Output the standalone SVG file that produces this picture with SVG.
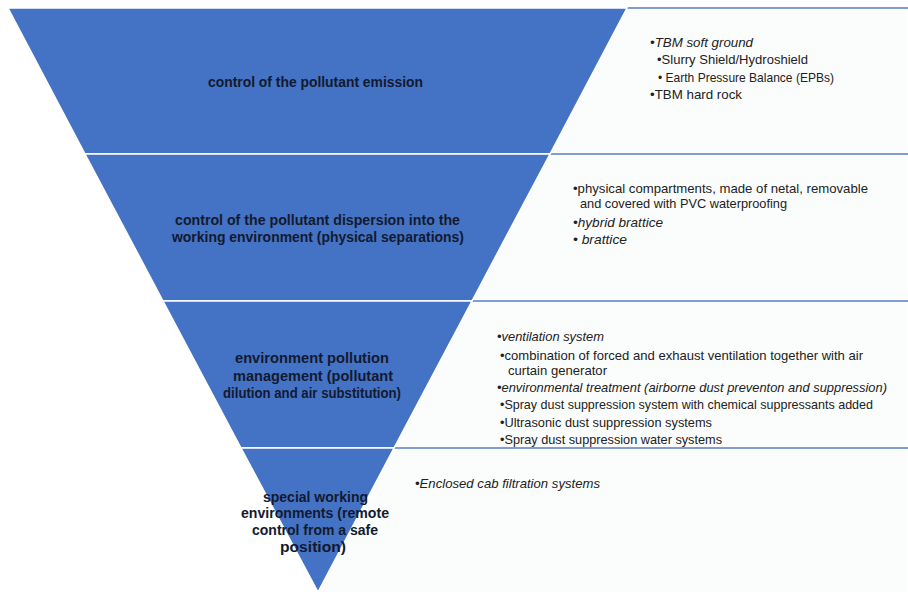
<svg xmlns="http://www.w3.org/2000/svg" width="908" height="594" viewBox="0 0 908 594">
<style>
.band{fill:#4472c4;stroke:#ffffff;stroke-width:1.5}
.panel{fill:#fbfcfc;stroke:none}
.sep{stroke:#7f9dd3;stroke-width:2;fill:none}
.lbl{font-family:"Liberation Sans",Arial,sans-serif;font-weight:bold;font-size:14px;fill:#121a30}
.txt{font-family:"Liberation Sans",Arial,sans-serif;font-size:13px;fill:#222222}
.it{font-style:italic}
</style>
<rect width="908" height="594" fill="#ffffff"/>
<g id="panels">
<polygon class="panel" points="627,8 906,8 906,154 550,154"/>
<polygon class="panel" points="550,154 906,154 906,301 472,301"/>
<polygon class="panel" points="472,301 906,301 906,448 394,448"/>
<polygon class="panel" points="394,448 906,448 906,592 318,592"/>
</g>
<g id="connectors">
<line class="sep" x1="627" y1="8" x2="908" y2="8"/>
<line class="sep" x1="550" y1="154" x2="908" y2="154"/>
<line class="sep" x1="472" y1="301" x2="908" y2="301"/>
<line class="sep" x1="394" y1="448" x2="908" y2="448"/>
</g>
<g id="band1">
<polygon class="band" points="8,8 627,8 550,154 85,154"/>
<text class="lbl" x="208" y="87" textLength="215" lengthAdjust="spacingAndGlyphs">control of the pollutant emission</text>
</g>
<g id="band2">
<polygon class="band" points="85,154 550,154 472,301 163,301"/>
<text class="lbl" x="175" y="225" textLength="285" lengthAdjust="spacingAndGlyphs">control of the pollutant dispersion into the</text>
<text class="lbl" x="172" y="242" textLength="292" lengthAdjust="spacingAndGlyphs">working environment (physical separations)</text>
</g>
<g id="band3">
<polygon class="band" points="163,301 472,301 394,448 241,448"/>
<text class="lbl" x="235" y="363" textLength="154" lengthAdjust="spacingAndGlyphs">environment pollution</text>
<text class="lbl" x="233" y="381" textLength="160" lengthAdjust="spacingAndGlyphs">management (pollutant</text>
<text class="lbl" x="223" y="398" textLength="178" lengthAdjust="spacingAndGlyphs">dilution and air substitution)</text>
</g>
<g id="band4">
<polygon class="band" points="241,448 394,448 318,592"/>
<text class="lbl" x="263" y="502" textLength="105" lengthAdjust="spacingAndGlyphs">special working</text>
<text class="lbl" x="241" y="518" textLength="148" lengthAdjust="spacingAndGlyphs">environments (remote</text>
<text class="lbl" x="252" y="535" textLength="126" lengthAdjust="spacingAndGlyphs">control from a safe</text>
<text class="lbl" x="280" y="552" textLength="66" lengthAdjust="spacingAndGlyphs">position)</text>
</g>
<g id="panel1">
<text class="txt it" x="650" y="47" textLength="103" lengthAdjust="spacingAndGlyphs">•TBM soft ground</text>
<text class="txt" x="657" y="64" textLength="151" lengthAdjust="spacingAndGlyphs">•Slurry Shield/Hydroshield</text>
<text class="txt" x="658" y="82" textLength="176" lengthAdjust="spacingAndGlyphs">• Earth Pressure Balance (EPBs)</text>
<text class="txt" x="650" y="99" textLength="92" lengthAdjust="spacingAndGlyphs">•TBM hard rock</text>
</g>
<g id="panel2">
<text class="txt" x="573" y="193" textLength="295" lengthAdjust="spacingAndGlyphs">•physical compartments, made of netal, removable</text>
<text class="txt" x="580" y="208" textLength="207" lengthAdjust="spacingAndGlyphs">and covered with PVC waterproofing</text>
<text class="txt it" x="573" y="227" textLength="90" lengthAdjust="spacingAndGlyphs">•hybrid brattice</text>
<text class="txt it" x="573" y="244" textLength="54" lengthAdjust="spacingAndGlyphs">• brattice</text>
</g>
<g id="panel3">
<text class="txt it" x="497" y="341" textLength="107" lengthAdjust="spacingAndGlyphs">•ventilation system</text>
<text class="txt" x="500" y="360" textLength="363" lengthAdjust="spacingAndGlyphs">•combination of forced and exhaust ventilation together with air</text>
<text class="txt" x="508" y="375" textLength="99" lengthAdjust="spacingAndGlyphs">curtain generator</text>
<text class="txt it" x="497" y="392" textLength="390" lengthAdjust="spacingAndGlyphs">•environmental treatment (airborne dust preventon and suppression)</text>
<text class="txt" x="500" y="409" textLength="373" lengthAdjust="spacingAndGlyphs">•Spray dust suppression system with chemical suppressants added</text>
<text class="txt" x="500" y="427" textLength="212" lengthAdjust="spacingAndGlyphs">•Ultrasonic dust suppression systems</text>
<text class="txt" x="500" y="444" textLength="222" lengthAdjust="spacingAndGlyphs">•Spray dust suppression water systems</text>
</g>
<g id="panel4">
<text class="txt it" x="415" y="488" textLength="185" lengthAdjust="spacingAndGlyphs">•Enclosed cab filtration systems</text>
</g>
</svg>
